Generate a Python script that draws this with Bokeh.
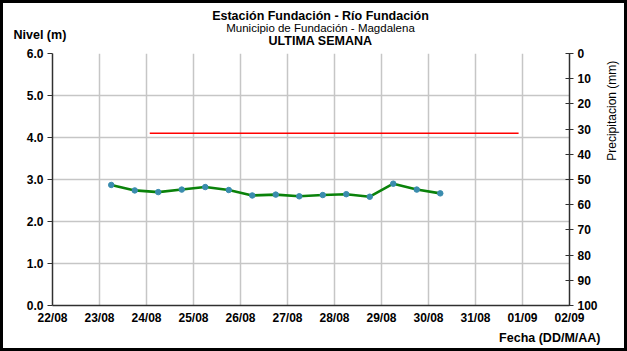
import math
import pandas as pd
from bokeh.plotting import figure
from bokeh.layouts import column, row
from bokeh.models import Range1d, LinearAxis, FixedTicker, ColumnDataSource, PrintfTickFormatter
from bokeh.core.properties import value
from bokeh.embed import file_html
from bokeh.resources import INLINE

# ---------------- data ----------------
start_date = "2012-08-22"
tick_labels = ["22/08", "23/08", "24/08", "25/08", "26/08", "27/08",
               "28/08", "29/08", "30/08", "31/08", "01/09", "02/09"]
level_times = ["2012-08-23 06:00", "2012-08-23 18:00", "2012-08-24 06:00", "2012-08-24 18:00",
               "2012-08-25 06:00", "2012-08-25 18:00", "2012-08-26 06:00", "2012-08-26 18:00",
               "2012-08-27 06:00", "2012-08-27 18:00", "2012-08-28 06:00", "2012-08-28 18:00",
               "2012-08-29 06:00", "2012-08-29 18:00", "2012-08-30 06:00"]
level_values = [2.87, 2.74, 2.70, 2.76, 2.82, 2.75, 2.62, 2.64,
                2.60, 2.63, 2.65, 2.59, 2.90, 2.76, 2.67]
alert_times = ["2012-08-24 01:40", "2012-08-31 22:00"]
alert_values = [4.1, 4.1]
level_ticks = [0, 1, 2, 3, 4, 5, 6]
precip_ticks = [0, 10, 20, 30, 40, 50, 60, 70, 80, 90, 100]

title_lines = ["Estación Fundación - Río Fundación",
               "Municipio de Fundación - Magdalena",
               "ULTIMA SEMANA"]
y_title = "Nivel (m)"
x_title = "Fecha (DD/M/AA)"
y2_title = "Precipitacion (mm)"

# ---------------- helpers ----------------
t0 = pd.Timestamp(start_date)
def day(s):
    return (pd.Timestamp(s) - t0) / pd.Timedelta(days=1)

day_ticks = list(range(len(tick_labels)))
FONT = "Liberation Sans"
B = 3              # outer border width
INNER_W = 621      # content width inside the border
HEAD_H = 44
MAIN_H = 280
FOOT_H = 21
SIDE_W = 24
MAIN_W = INNER_W - SIDE_W


def blank(w, h):
    f = figure(width=w, height=h, output_backend="svg", toolbar_location=None,
               x_range=Range1d(0, w), y_range=Range1d(h, 0),
               x_axis_location=None, y_axis_location=None, min_border=0, title=None)
    f.grid.visible = False
    f.outline_line_color = None
    f.background_fill_color = "white"
    f.border_fill_color = "white"
    return f


def put(f, txt, x, y, style="bold", size="12px", align="center", angle=0.0):
    f.text(x=[x], y=[y], text=[txt], angle=angle, text_align=align, text_baseline="middle",
           text_font=value(FONT), text_font_size=size, text_font_style=style,
           text_color="black")

# ---------------- header (titles) ----------------
head = blank(INNER_W, HEAD_H)
put(head, title_lines[0], 317, 12, "bold", "12.5px")
put(head, title_lines[1], 317, 24.5, "normal", "11.5px")
put(head, title_lines[2], 317, 37, "bold", "12.5px")
put(head, y_title, 10, 31, "bold", "12.5px", align="left")

# ---------------- main plot ----------------
p = figure(width=MAIN_W, height=MAIN_H, output_backend="svg", toolbar_location=None,
           x_range=Range1d(0, 11), y_range=Range1d(0, 6),
           min_border_left=49, min_border_right=30, min_border_top=6, min_border_bottom=21,
           title=None)
p.outline_line_color = None
p.background_fill_color = "white"
p.border_fill_color = "white"
p.extra_y_ranges = {"precip": Range1d(100, 0)}

p.xgrid.ticker = FixedTicker(ticks=day_ticks)
p.ygrid.ticker = FixedTicker(ticks=level_ticks)
for g in (p.xgrid, p.ygrid):
    g.grid_line_color = "#c6c6c6"
    g.grid_line_width = 1.5

xa = p.xaxis[0]
xa.ticker = FixedTicker(ticks=day_ticks)
xa.major_label_overrides = {d: lab for d, lab in zip(day_ticks, tick_labels)}
xa.major_tick_out = 0
xa.major_tick_in = 0
xa.major_label_standoff = 5

ya = p.yaxis[0]
ya.ticker = FixedTicker(ticks=level_ticks)
ya.formatter = PrintfTickFormatter(format="%.1f")
ya.major_tick_out = 5
ya.major_tick_in = 0
ya.major_label_standoff = 4

ra = LinearAxis(y_range_name="precip", ticker=FixedTicker(ticks=precip_ticks))
ra.major_tick_out = 4
ra.major_tick_in = 4
ra.major_label_standoff = 4
p.add_layout(ra, "right")

for ax in (xa, ya, ra):
    ax.minor_tick_out = 0
    ax.minor_tick_in = 0
    ax.axis_line_color = "#303030"
    ax.axis_line_width = 1.5
    ax.major_tick_line_color = "#303030"
    ax.major_tick_line_width = 1.2
    ax.major_label_text_font = FONT
    ax.major_label_text_font_style = "bold"
    ax.major_label_text_font_size = "12px"
    ax.major_label_text_color = "black"

src = ColumnDataSource(dict(x=[day(t) for t in level_times], y=level_values))
p.line("x", "y", source=src, line_color="#0a820a", line_width=2.6)
p.scatter("x", "y", source=src, size=5.5, fill_color="#3a8cae", line_color="#3a8cae")

alert = ColumnDataSource(dict(x=[day(t) for t in alert_times], y=alert_values))
p.line("x", "y", source=alert, line_color="#ff0000", line_width=1.6)

# ---------------- right strip (secondary axis title) ----------------
side = blank(SIDE_W, MAIN_H)
put(side, y2_title, 11, 8, "normal", "12px", align="right", angle=math.pi / 2)

# ---------------- footer (x title) ----------------
foot = blank(INNER_W, FOOT_H)
put(foot, x_title, 597, 10, "bold", "12.5px", align="right")

layout = column(head, row(p, side), foot, styles={"border": f"{B}px solid black"})

open("out.html", "w").write(file_html(layout, INLINE))
